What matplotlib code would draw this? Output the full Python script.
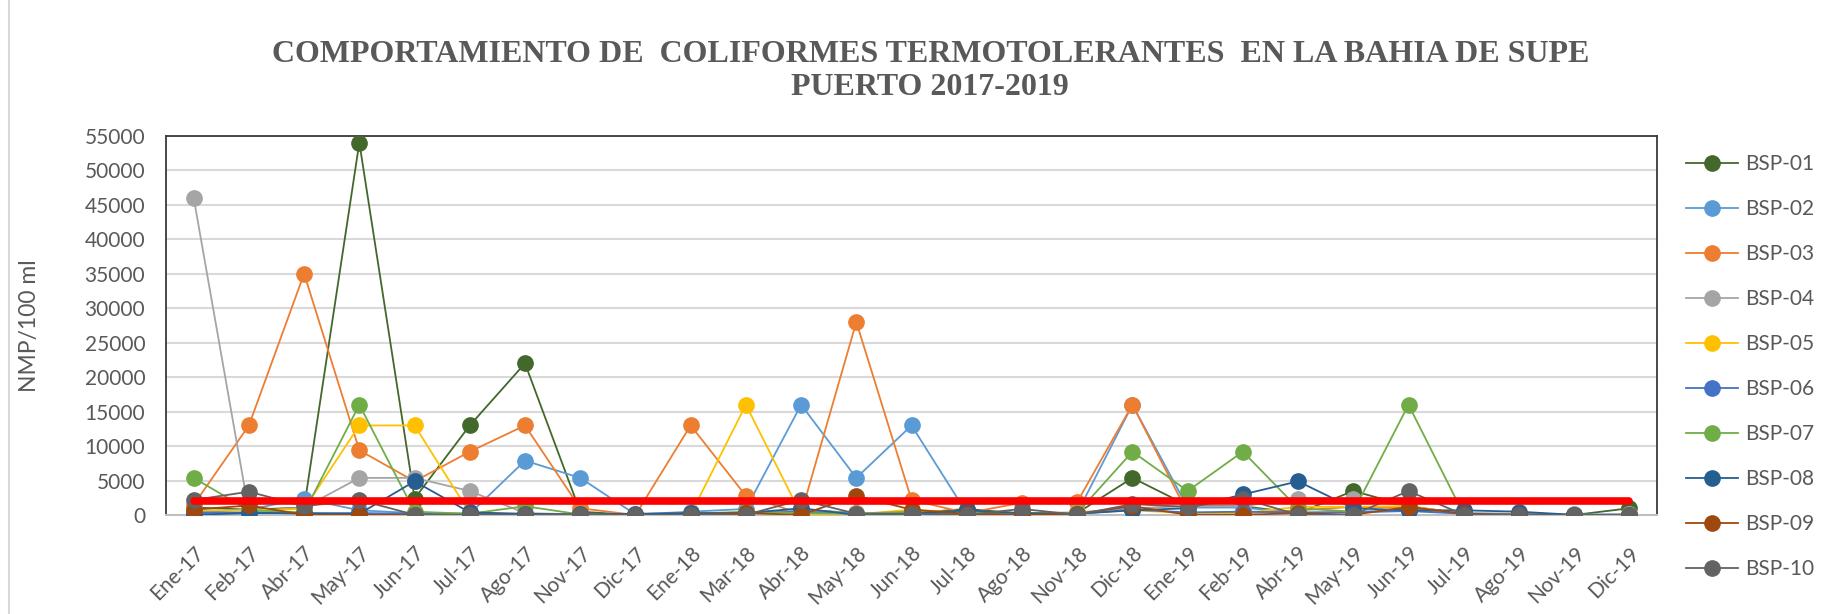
import numpy as np
import matplotlib
matplotlib.use("Agg")
import matplotlib.pyplot as plt
from matplotlib.patches import Rectangle

plt.rcParams['font.family'] = ['Lato', 'DejaVu Sans']

# sampling months (category axis)
months = ['Ene-17', 'Feb-17', 'Abr-17', 'May-17', 'Jun-17', 'Jul-17', 'Ago-17', 'Nov-17', 'Dic-17',
          'Ene-18', 'Mar-18', 'Abr-18', 'May-18', 'Jun-18', 'Jul-18', 'Ago-18', 'Nov-18', 'Dic-18',
          'Ene-19', 'Feb-19', 'Abr-19', 'May-19', 'Jun-19', 'Jul-19', 'Ago-19', 'Nov-19', 'Dic-19']

# NMP/100 ml per station
bsp01 = [1100, 800, 1100, 54000, 2400, 13000, 22000, 500, 20, 200, 300, 800, 300, 300, 900, 200, 300,
         5400, 1400, 1300, 300, 3500, 1300, 200, 100, 20, 1000]
bsp02 = [400, 800, 2400, 700, 300, 200, 7900, 5400, 100, 500, 900, 16000, 5400, 13000, 300, 300, 300,
         16000, 1100, 1100, 300, 500, 700, 300, 200, 100, 100]
bsp03 = [1500, 13000, 35000, 9400, 4900, 9200, 13000, 1000, 20, 13000, 2800, 200, 28000, 2200, 300, 1800,
         1900, 16000, 300, 300, 700, 1200, 1100, 200, 100, 20, 20]
bsp04 = [46000, 500, 1100, 5400, 5400, 3500, 300, 100, 20, 100, 300, 700, 300, 400, 200, 300, 400,
         1000, 1300, 1300, 2400, 2400, 1300, 200, 100, 20, 100]
bsp05 = [700, 700, 900, 13000, 13000, 300, 100, 100, 20, 100, 16000, 100, 100, 800, 300, 200, 300,
         700, 300, 300, 1200, 1200, 1300, 200, 100, 20, 20]
bsp06 = [300, 400, 200, 300, 200, 200, 100, 100, 20, 200, 300, 500, 200, 300, 200, 200, 200,
         800, 400, 500, 400, 400, 600, 200, 100, 20, 20]
bsp07 = [5400, 700, 400, 16000, 500, 200, 1300, 100, 20, 200, 500, 300, 200, 500, 500, 300, 300,
         9200, 3500, 9200, 1000, 500, 16000, 100, 50, 20, 50]
bsp08 = [50, 300, 300, 200, 4900, 400, 200, 100, 200, 300, 300, 1000, 50, 200, 700, 300, 200,
         700, 1000, 3000, 4900, 1000, 700, 700, 500, 50, 50]
bsp09 = [800, 1400, 50, 50, 50, 50, 50, 50, 20, 50, 300, 50, 2800, 800, 200, 50, 200,
         1300, 50, 50, 300, 50, 1200, 200, 50, 20, 20]
bsp10 = [2200, 3400, 1300, 2200, 50, 50, 50, 50, 20, 50, 50, 2200, 200, 200, 50, 900, 50,
         1600, 1200, 2400, 50, 50, 3500, 50, 50, 20, 50]

labels = ['BSP-01', 'BSP-02', 'BSP-03', 'BSP-04', 'BSP-05',
          'BSP-06', 'BSP-07', 'BSP-08', 'BSP-09', 'BSP-10']
colors = ['#43682B', '#5B9BD5', '#ED7D31', '#A5A5A5', '#FFC000',
          '#4472C4', '#70AD47', '#255E91', '#9E480E', '#636363']

# limite maximo permisible
limit = 2000

series = [bsp01, bsp02, bsp03, bsp04, bsp05, bsp06, bsp07, bsp08, bsp09, bsp10]
x = np.arange(len(months))

fig = plt.figure(figsize=(18.35, 6.14), dpi=100)
ax = fig.add_axes([0.0905, 0.161, 0.8125, 0.618])

for vals, lab, col in zip(series, labels, colors):
    ax.plot(x, vals, color=col, lw=1.3, marker='o', markersize=11, label=lab, zorder=3)

ax.plot(x, [limit] * len(months), color='#FF0000', lw=5.5, solid_capstyle='round', zorder=4)

ax.set_xlim(-0.5, len(months) - 0.5)
ax.set_ylim(0, 55000)
ax.set_yticks(np.arange(0, 55001, 5000))
ax.set_xticks(x)
ax.set_xticklabels(months, rotation=45, ha='right', rotation_mode='anchor')
ax.tick_params(axis='both', length=0, labelsize=15, colors='#595959')
ax.tick_params(axis='x', pad=20)
ax.tick_params(axis='y', pad=15)
ax.yaxis.grid(True, color='#D9D9D9', lw=1.5, zorder=0)
ax.set_axisbelow(True)

for side in ['top', 'right', 'left']:
    ax.spines[side].set_color('#3A3A3A')
    ax.spines[side].set_linewidth(1.3)
ax.spines['bottom'].set_color('#BFBFBF')
ax.spines['bottom'].set_linewidth(1.5)

ax.set_ylabel('NMP/100 ml', fontsize=16.5, color='#595959')
ax.yaxis.set_label_coords(-0.0845, 0.5)

fig.text(0.507, 0.884, 'COMPORTAMIENTO DE  COLIFORMES TERMOTOLERANTES  EN LA BAHIA DE SUPE\nPUERTO 2017-2019',
         ha='center', va='center', fontsize=23, fontweight='bold', color='#595959',
         family='Liberation Serif', linespacing=1.2)

fig.legend(loc='upper left', bbox_to_anchor=(0.919, 0.749), frameon=False, fontsize=15,
           handlelength=2.5, handletextpad=0.3, labelspacing=1.2, labelcolor='#595959',
           borderpad=0, borderaxespad=0)

# light frame around chart area (right and bottom edges fall outside the image)
fig.patches.append(Rectangle((9 / 1835, -0.2), 1.2, 1.2 + (1 - 10 / 614), transform=fig.transFigure,
                             fill=False, edgecolor='#D9D9D9', lw=1.5))

fig.savefig('out.png', dpi=100)
